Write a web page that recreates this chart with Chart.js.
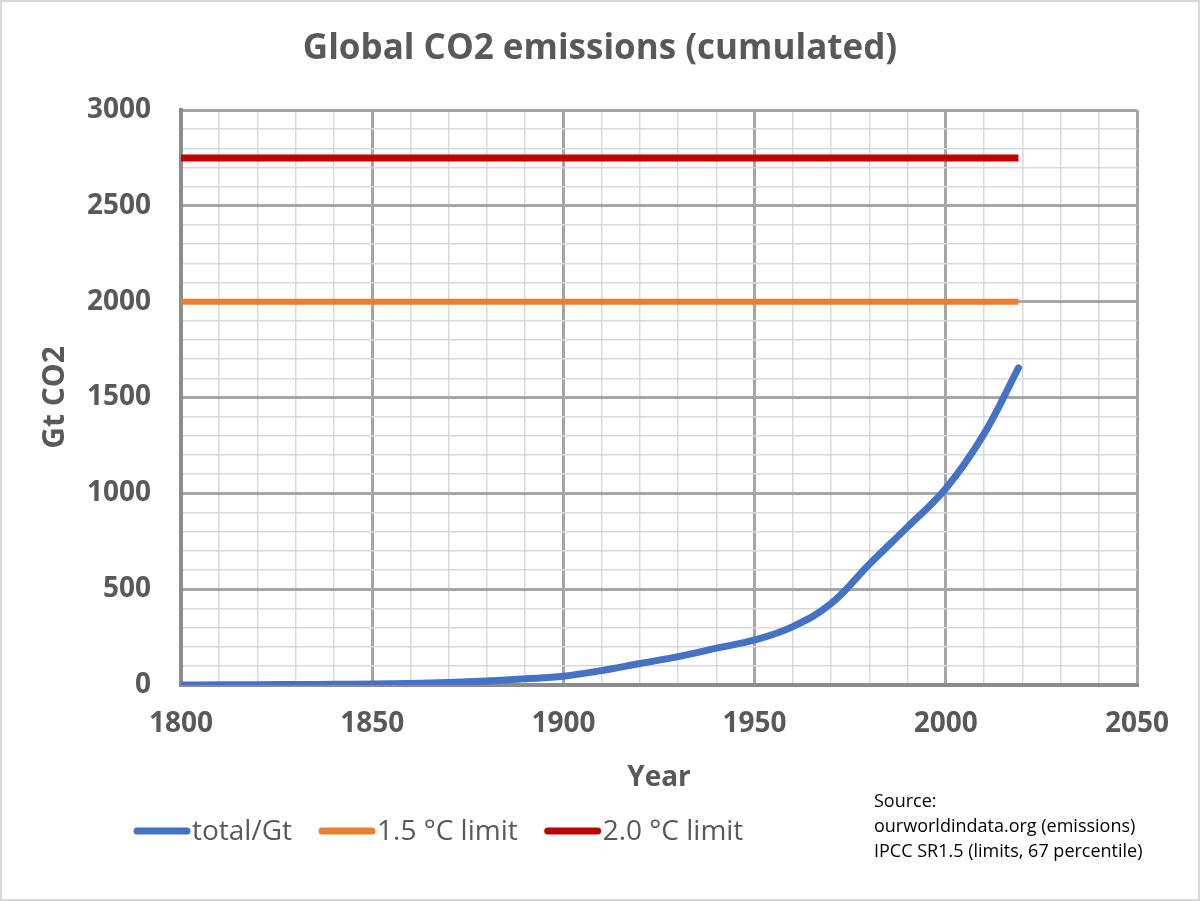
<!DOCTYPE html>
<html>
<head>
<meta charset="utf-8">
<title>Global CO2 emissions (cumulated)</title>
<script src="https://cdn.jsdelivr.net/npm/chart.js@4.4.0/dist/chart.umd.min.js"></script>
<style>
	html, body { margin: 0; padding: 0; background: #fff; }
	#container { width: 1200px; height: 901px; position: relative; }
</style>
</head>
<body>
<div id="container"><canvas id="line-chart"></canvas></div>
<script>
// cumulated global CO2 emissions, Gt
const years = [1800, 1810, 1820, 1830, 1840, 1850, 1860, 1870, 1880, 1890, 1900, 1910,
	1920, 1930, 1940, 1950, 1960, 1970, 1980, 1990, 2000, 2010, 2019];
const totalGt = [0, 1, 1.5, 2.5, 3.5, 5, 8, 13, 21, 32, 46, 75,
	112, 148, 192, 235, 305, 425, 630, 825, 1025, 1310, 1655];

// IPCC SR1.5 budgets (67 percentile)
const limitYears = [1800, 2019];
const limit15 = [2000, 2000];
const limit20 = [2750, 2750];

const xTickLabels = [1800, 1850, 1900, 1950, 2000, 2050];
const yTickLabels = [0, 500, 1000, 1500, 2000, 2500, 3000];

const chartTitle = 'Global CO2 emissions (cumulated)';
const sourceLines = [
	'Source:',
	'ourworldindata.org (emissions)',
	'IPCC SR1.5 (limits, 67 percentile)'
];

const FONT = '"Open Sans", "Noto Sans", sans-serif';
const TEXT_GREY = '#595959';

function toPoints(xs, ys) {
	return xs.map(function (x, i) { return { x: x, y: ys[i] }; });
}

function gridColor(labels) {
	return function (ctx) {
		return labels.indexOf(ctx.tick.value) !== -1 ? '#a6a6a6' : '#d9d9d9';
	};
}
function gridWidth(labels) {
	return function (ctx) {
		return labels.indexOf(ctx.tick.value) !== -1 ? 3 : 1.5;
	};
}

// title centred on the whole page, legend, source note and frame
const decorations = {
	id: 'decorations',
	afterDraw: function (chart) {
		const ctx = chart.ctx;
		ctx.save();
		ctx.strokeStyle = '#d9d9d9';
		ctx.lineWidth = 2;
		ctx.strokeRect(1, 1, chart.width - 2, chart.height - 2);

		ctx.font = 'bold 35px ' + FONT;
		ctx.fillStyle = TEXT_GREY;
		ctx.textAlign = 'center';
		ctx.textBaseline = 'middle';
		ctx.fillText(chartTitle, chart.width / 2, 49);

		let x = 133;
		const y = 831;
		ctx.font = '28px ' + FONT;
		ctx.textAlign = 'left';
		ctx.lineCap = 'round';
		chart.data.datasets.forEach(function (ds) {
			ctx.strokeStyle = ds.borderColor;
			ctx.lineWidth = 7;
			ctx.beginPath();
			ctx.moveTo(x + 4, y);
			ctx.lineTo(x + 54, y);
			ctx.stroke();
			ctx.fillStyle = TEXT_GREY;
			ctx.fillText(ds.label, x + 59, y + 1);
			x += 59 + ctx.measureText(ds.label).width + 26;
		});

		ctx.font = '18px ' + FONT;
		ctx.fillStyle = '#000';
		sourceLines.forEach(function (line, i) {
			ctx.fillText(line, 874, 802 + i * 25);
		});
		ctx.restore();
	}
};

new Chart(document.getElementById('line-chart'), {
	type: 'line',
	data: {
		datasets: [{
			label: 'total/Gt',
			data: toPoints(years, totalGt),
			borderColor: '#4472C4',
			borderWidth: 7,
			borderCapStyle: 'round',
			pointRadius: 0,
			tension: 0.4,
			fill: false
		}, {
			label: '1.5 °C limit',
			data: toPoints(limitYears, limit15),
			borderColor: '#ED7D31',
			borderWidth: 6,
			pointRadius: 0,
			fill: false
		}, {
			label: '2.0 °C limit',
			data: toPoints(limitYears, limit20),
			borderColor: '#C00000',
			borderWidth: 7,
			pointRadius: 0,
			fill: false
		}]
	},
	options: {
		responsive: true,
		maintainAspectRatio: false,
		animation: false,
		layout: { padding: { top: 110, left: 20, right: 63, bottom: 106 } },
		plugins: {
			legend: { display: false },
			tooltip: { enabled: false },
			title: { display: false }
		},
		scales: {
			x: {
				type: 'linear',
				min: 1800,
				max: 2050,
				ticks: {
					stepSize: 10,
					autoSkip: false,
					maxRotation: 0,
					padding: 22,
					color: TEXT_GREY,
					font: { family: FONT, size: 28, weight: 'bold' },
					callback: function (v) { return xTickLabels.indexOf(v) !== -1 ? String(v) : ''; }
				},
				grid: { color: gridColor(xTickLabels), lineWidth: gridWidth(xTickLabels), drawTicks: false },
				border: { color: '#8c8c8c', width: 4 },
				title: {
					display: true,
					text: 'Year',
					color: TEXT_GREY,
					font: { family: FONT, size: 28, weight: 'bold' },
					padding: { top: 0, bottom: 0 }
				},
				afterFit: function (scale) { scale.height = 110; }
			},
			y: {
				min: 0,
				max: 3000,
				ticks: {
					stepSize: 100,
					autoSkip: false,
					padding: 30,
					color: TEXT_GREY,
					font: { family: FONT, size: 28, weight: 'bold' },
					callback: function (v) { return yTickLabels.indexOf(v) !== -1 ? String(v) : ''; }
				},
				grid: { color: gridColor(yTickLabels), lineWidth: gridWidth(yTickLabels), drawTicks: false },
				border: { color: '#8c8c8c', width: 4 },
				title: {
					display: true,
					text: 'Gt CO2',
					color: TEXT_GREY,
					font: { family: FONT, size: 30, weight: 'bold' },
					padding: { top: 17, bottom: 0 }
				},
				afterFit: function (scale) { scale.width = 161; }
			}
		}
	},
	plugins: [decorations]
});
</script>
</body>
</html>
